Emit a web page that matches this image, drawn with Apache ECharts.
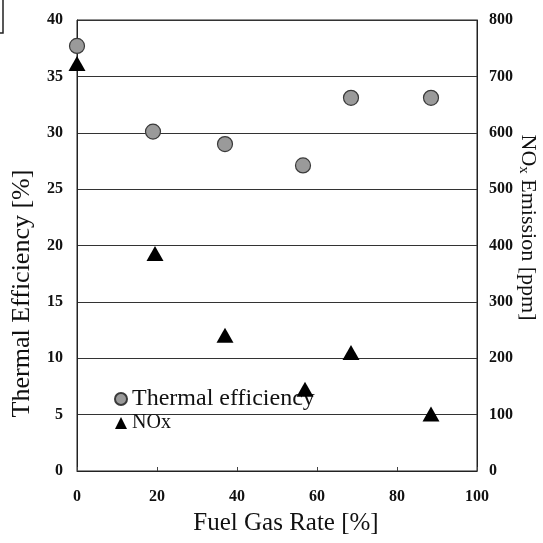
<!DOCTYPE html>
<html>
<head>
<meta charset="utf-8">
<script src="https://cdn.jsdelivr.net/npm/echarts@6/dist/echarts.min.js"></script>
<style>
  html, body { margin: 0; padding: 0; background: #fff; }
  #chart { width: 543px; height: 543px; }
</style>
</head>
<body>
<div id="chart"></div>
<script>
var fuelRateEff = [0, 19, 37, 56.5, 68.5, 88.5];
var efficiency = [37.7, 30.1, 29.0, 27.1, 33.1, 33.1];
var fuelRateNox = [0, 19.5, 37, 57, 68.5, 88.5];
var nox = [723, 386, 241, 145, 210, 101];

var chart = echarts.init(document.getElementById('chart'));
var serif = '"Liberation Serif", "DejaVu Serif", serif';

var tickLabel = {
    fontFamily: serif,
    fontWeight: 'bold',
    fontSize: 16,
    color: '#111'
};

function pairs(xs, ys) {
    return xs.map(function (x, i) { return [x, ys[i]]; });
}

var option = {
    backgroundColor: '#fff',
    animation: false,
    grid: {
        left: 77, right: 66, top: 20, bottom: 72,
        outerBoundsMode: 'none',
        containLabel: false,
        show: true, borderColor: '#222', borderWidth: 1
    },
    legend: {
        orient: 'vertical',
        left: 109, top: 382,
        itemGap: 2,
        itemWidth: 12, itemHeight: 12,
        textStyle: { fontFamily: serif, fontSize: 20, color: '#111' },
        data: [
            { name: 'Thermal efficiency', textStyle: { fontSize: 24 } },
            { name: 'NOx', textStyle: { fontSize: 20 } }
        ]
    },
    xAxis: {
        type: 'value',
        min: 0, max: 100, interval: 20,
        name: 'Fuel Gas Rate [%]',
        nameLocation: 'middle',
        nameGap: 40,
        nameMoveOverlap: false,
        nameTextStyle: { fontFamily: serif, fontSize: 25, color: '#111', padding: [0, 0, 0, 18] },
        axisLine: { lineStyle: { color: '#222' } },
        axisTick: { inside: true, length: 4, lineStyle: { color: '#444' } },
        splitLine: { show: false },
        axisLabel: Object.assign({ margin: 18 }, tickLabel)
    },
    yAxis: [{
        type: 'value',
        min: 0, max: 40, interval: 5,
        name: 'Thermal Efficiency [%]',
        nameLocation: 'middle',
        nameGap: 42,
        nameMoveOverlap: false,
        nameTextStyle: { fontFamily: serif, fontSize: 26, color: '#111', padding: [0, 96, 0, 0] },
        axisLine: { show: true, lineStyle: { color: '#222' } },
        axisTick: { show: false },
        splitLine: { show: true, lineStyle: { color: '#333', width: 1 } },
        axisLabel: Object.assign({ margin: 14 }, tickLabel)
    }, {
        type: 'value',
        min: 0, max: 800, interval: 100,
        position: 'right',
        name: 'NO{sub|x} Emission [ppm]',
        nameLocation: 'middle',
        nameRotate: -90,
        nameGap: 39,
        nameMoveOverlap: false,
        nameTextStyle: {
            fontFamily: serif, fontSize: 22, color: '#111',
            padding: [0, 36, 0, 0],
            rich: {
                sub: { fontFamily: serif, fontSize: 15, color: '#111', verticalAlign: 'bottom', padding: [9, 0, 0, 0] }
            }
        },
        axisLine: { show: true, lineStyle: { color: '#222' } },
        axisTick: { show: false },
        splitLine: { show: false },
        axisLabel: Object.assign({ margin: 12 }, tickLabel)
    }],
    graphic: [{
        type: 'polyline',
        shape: { points: [[0, 33], [3, 33], [3, 0]] },
        style: { stroke: '#222', lineWidth: 1.5, fill: null }
    }],
    series: [{
        name: 'Thermal efficiency',
        type: 'scatter',
        yAxisIndex: 0,
        symbol: 'circle',
        symbolSize: 15,
        itemStyle: { color: '#9a9a9a', borderColor: '#3a3a3a', borderWidth: 1.2, opacity: 1 },
        data: pairs(fuelRateEff, efficiency),
        z: 3
    }, {
        name: 'NOx',
        type: 'scatter',
        yAxisIndex: 1,
        symbol: 'triangle',
        symbolSize: [17, 15],
        itemStyle: { color: '#000', opacity: 1 },
        data: pairs(fuelRateNox, nox),
        z: 4
    }]
};

chart.setOption(option);
</script>
</body>
</html>
